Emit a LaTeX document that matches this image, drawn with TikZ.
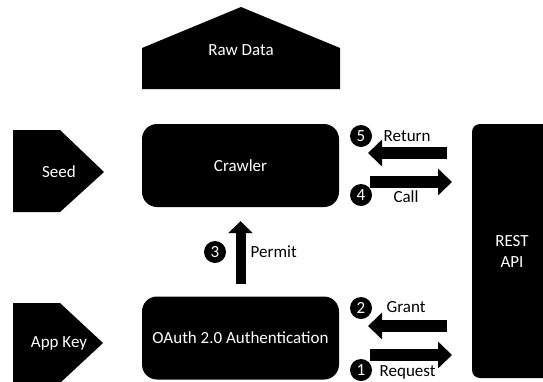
\documentclass[tikz,border=0pt]{standalone}
\usepackage{fontspec}
\setmainfont{Carlito}
\usepackage{tikz}
\usetikzlibrary{positioning,arrows.meta,calc}

\begin{document}
\begin{tikzpicture}[x=1pt, y=-1pt,
    every node/.style={font=\fontsize{17}{21}\selectfont},
    box/.style={fill=black, text=white, rounded corners=15pt, minimum width=197pt, minimum height=83pt},
    num/.style={circle, fill=black, text=white, inner sep=0pt, minimum size=22pt, font=\fontsize{17}{17}\selectfont},
    blk/.style={line width=12pt, -{Triangle[length=14pt,width=26pt]}}]
    \useasboundingbox (0,0) rectangle (543,381);
    \clip (0,0) rectangle (543,381);

    % input shapes
    \fill (142,89) -- (142,48) -- (241,7) -- (340,48) -- (340,89) -- cycle;
    \node[text=white] (raw) at (241,50) {Raw Data};
    \fill (13,130) -- (60,130) -- (104,172) -- (60,212) -- (13,212) -- cycle;
    \node[text=white] (seed) at (59,172) {Seed};
    \fill (13,303) -- (60,303) -- (103,343) -- (60,383) -- (13,383) -- cycle;
    \node[text=white] (appkey) at (59,343) {App Key};

    % main boxes
    \node[box] (crawler) at (240.5,165.5) {Crawler};
    \node[box] (oauth) at (240.5,338) {OAuth 2.0 Authentication};
    \node[box, rounded corners=8pt, minimum width=80pt, minimum height=254pt, align=center] (api) at (512,251) {REST\\API};

    % arrow ends
    \coordinate (ret-a) at (447,153);
    \coordinate (ret-b) at (368,153);
    \coordinate (call-a) at (370,182);
    \coordinate (call-b) at (452,182);
    \coordinate (grant-a) at (447,326);
    \coordinate (grant-b) at (368,326);
    \coordinate (req-a) at (370,355);
    \coordinate (req-b) at (452,355);

    \draw[blk] (ret-a) -- (ret-b);
    \draw[blk] (call-a) -- (call-b);
    \draw[blk] (grant-a) -- (grant-b);
    \draw[blk] (req-a) -- (req-b);
    \draw[blk, line width=10pt, -{Triangle[length=12pt,width=24pt]}, shorten <=12pt, shorten >=14pt] (oauth) -- (crawler);

    % step numbers
    \node[num] (n5) at (361,136) {5};
    \node[num] (n4) at (361,195) {4};
    \node[num] (n3) at (215,252) {3};
    \node[num] (n2) at (361,308) {2};
    \node[num] (n1) at (361,370) {1};

    \node[right=8pt of n5] (lret) {Return};
    \node (lcall) at (406,197) {Call};
    \node[right=21pt of n3] (lpermit) {Permit};
    \node (lgrant) at (406,307) {Grant};
    \node[right=4pt of n1, yshift=-2pt] (lreq) {Request};
\end{tikzpicture}
\end{document}
